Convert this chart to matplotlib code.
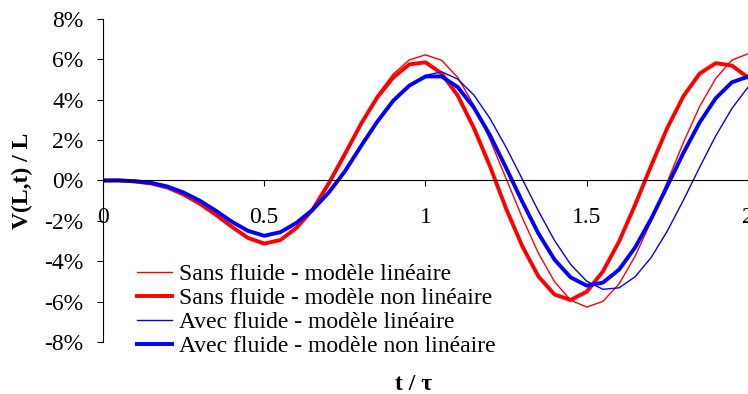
import matplotlib

matplotlib.use("Agg")
import matplotlib.pyplot as plt

t = [0.00, 0.05, 0.10, 0.15, 0.20, 0.25, 0.30, 0.35, 0.40, 0.45,
     0.50, 0.55, 0.60, 0.65, 0.70, 0.75, 0.80, 0.85, 0.90, 0.95,
     1.00, 1.05, 1.10, 1.15, 1.20, 1.25, 1.30, 1.35, 1.40, 1.45,
     1.50, 1.55, 1.60, 1.65, 1.70, 1.75, 1.80, 1.85, 1.90, 1.95, 2.00]

# values in % of L
sans_lin = [0.00, 0.00, -0.05, -0.15, -0.35, -0.70, -1.15, -1.70, -2.30, -2.80,
            -3.08, -2.92, -2.30, -1.35, -0.05, 1.40, 2.85, 4.20, 5.27, 5.97,
            6.22, 5.95, 5.10, 3.73, 2.02, 0.09, -1.84, -3.60, -5.01, -5.93,
            -6.27, -5.99, -5.13, -3.75, -2.01, -0.06, 1.89, 3.66, 5.05, 5.96, 6.27]
sans_nonlin = [0.00, 0.00, -0.05, -0.15, -0.35, -0.70, -1.15, -1.70, -2.30, -2.85,
               -3.13, -2.95, -2.35, -1.45, -0.15, 1.30, 2.80, 4.10, 5.10, 5.75,
               5.85, 5.30, 4.20, 2.60, 0.70, -1.40, -3.25, -4.75, -5.65, -5.92,
               -5.51, -4.51, -3.03, -1.21, 0.74, 2.61, 4.18, 5.29, 5.81, 5.69, 5.10]
avec_lin = [0.00, 0.00, -0.04, -0.12, -0.30, -0.60, -1.00, -1.50, -2.00, -2.45,
            -2.70, -2.61, -2.15, -1.50, -0.60, 0.50, 1.70, 2.90, 3.90, 4.70,
            5.20, 5.38, 5.02, 4.23, 3.07, 1.64, 0.07, -1.51, -2.97, -4.16,
            -4.99, -5.39, -5.32, -4.77, -3.81, -2.50, -0.97, 0.65, 2.21, 3.56, 4.62]
avec_nonlin = [0.00, 0.00, -0.04, -0.12, -0.30, -0.60, -1.00, -1.50, -2.05, -2.50,
               -2.74, -2.56, -2.10, -1.45, -0.60, 0.45, 1.70, 2.90, 3.95, 4.70,
               5.15, 5.15, 4.62, 3.61, 2.24, 0.62, -1.05, -2.62, -3.92, -4.80,
               -5.21, -5.06, -4.42, -3.32, -1.89, -0.27, 1.37, 2.87, 4.07, 4.86, 5.14]

labels = [
    "Sans fluide - modèle linéaire",
    "Sans fluide - modèle non linéaire",
    "Avec fluide - modèle linéaire",
    "Avec fluide - modèle non linéaire",
]
xticks = [0, 0.5, 1, 1.5, 2]
xtick_labels = ["0", "0.5", "1", "1.5", "2"]
yticks = [-8, -6, -4, -2, 0, 2, 4, 6, 8]
ytick_labels = ["-8%", "-6%", "-4%", "-2%", "0%", "2%", "4%", "6%", "8%"]

plt.rcParams["font.family"] = ["Liberation Serif", "DejaVu Serif"]

fig = plt.figure(figsize=(7.48, 3.94), dpi=100)
ax = fig.add_axes([0.1377, 0.132, 0.8623, 0.820])

ax.plot(t, sans_lin, color="#ff0000", lw=1.0, label=labels[0])
ax.plot(t, sans_nonlin, color="#ff0000", lw=2.8, label=labels[1])
ax.plot(t, avec_lin, color="#0000ff", lw=1.0, label=labels[2])
ax.plot(t, avec_nonlin, color="#0000ff", lw=2.8, label=labels[3])

ax.set_xlim(0, 2)
ax.set_ylim(-8, 8)
ax.spines["top"].set_visible(False)
ax.spines["right"].set_visible(False)
ax.spines["bottom"].set_position(("data", 0))
ax.spines["left"].set_linewidth(0.8)
ax.spines["bottom"].set_linewidth(0.8)

ax.set_xticks(xticks)
ax.set_xticklabels(xtick_labels)
ax.set_yticks(yticks)
ax.set_yticklabels(ytick_labels)
ax.tick_params(axis="x", direction="out", length=4, pad=15, labelsize=17)
ax.tick_params(axis="y", direction="out", length=4, pad=10, labelsize=17)

ax.set_ylabel("V(L,t) / L", fontsize=17, fontweight="bold", labelpad=8)
fig.text(0.553, 0.025, "t / τ", fontsize=17, fontweight="bold", ha="center", va="center")

ax.legend(loc="upper left", bbox_to_anchor=(0.183, 0.331), bbox_transform=fig.transFigure,
          frameon=False, fontsize=17, borderpad=0, borderaxespad=0,
          handlelength=1.5, handletextpad=0.3, labelspacing=0.1)

fig.savefig("out.png", dpi=100)
